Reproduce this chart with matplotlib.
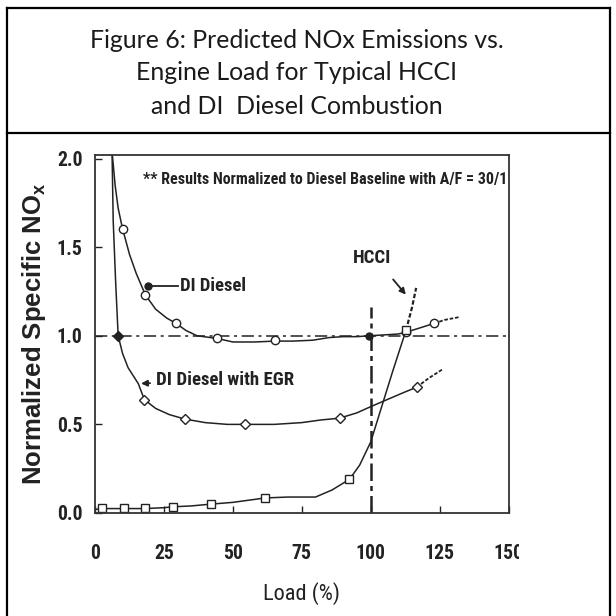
import matplotlib
matplotlib.use('Agg')
import matplotlib.pyplot as plt
from matplotlib import font_manager
from matplotlib.lines import Line2D
from matplotlib.transforms import Bbox, TransformedBbox

# Curvas (carga %, NOx normalizado)
diesel_x = [6.3, 7.3, 8.4, 9.9, 12.5, 15, 18.3, 22, 26, 29.4, 33, 37, 44.3, 50, 58, 65.4, 72, 79, 85, 90, 95, 99.5, 105, 110, 112.8, 118, 123]
diesel_y = [2.02, 1.85, 1.72, 1.61, 1.46, 1.35, 1.23, 1.15, 1.10, 1.07, 1.03, 1.00, 0.985, 0.965, 0.965, 0.97, 0.97, 0.975, 0.99, 0.995, 0.995, 1.0, 1.005, 1.01, 1.02, 1.045, 1.07]
diesel_tail_x = [123, 127, 132]
diesel_tail_y = [1.07, 1.09, 1.105]
diesel_mx = [10, 18.3, 29.4, 44.3, 65.4, 112.8, 123]
diesel_my = [1.60, 1.23, 1.07, 0.99, 0.975, 1.02, 1.07]

egr_x = [6.2, 6.6, 7.5, 8.4, 10, 12, 15.7, 17.9, 22, 27, 32.6, 40, 48, 54.5, 65, 75, 82, 88.7, 95, 100, 106, 112, 116.7]
egr_y = [2.02, 1.65, 1.30, 1.0, 0.90, 0.82, 0.73, 0.64, 0.59, 0.555, 0.53, 0.51, 0.50, 0.50, 0.50, 0.51, 0.525, 0.535, 0.565, 0.60, 0.64, 0.68, 0.71]
egr_tail_x = [116.7, 121, 126]
egr_tail_y = [0.71, 0.76, 0.81]
egr_mx = [17.9, 32.6, 54.5, 88.7, 116.7]
egr_my = [0.64, 0.53, 0.50, 0.535, 0.71]

hcci_x = [0, 2.7, 10.6, 18.2, 25, 28.3, 35, 42, 50, 61.8, 70, 80, 86, 92.3, 96, 100, 104, 108, 112.8]
hcci_y = [0.02, 0.025, 0.025, 0.025, 0.03, 0.035, 0.04, 0.05, 0.06, 0.085, 0.09, 0.09, 0.13, 0.19, 0.27, 0.40, 0.60, 0.80, 1.03]
hcci_tail_x = [112.8, 115, 116.5]
hcci_tail_y = [1.03, 1.16, 1.27]
hcci_mx = [2.7, 10.6, 18.2, 28.3, 42, 61.8, 92.3, 112.8]
hcci_my = [0.03, 0.03, 0.03, 0.035, 0.05, 0.085, 0.19, 1.03]

x_ticks = [0, 25, 50, 75, 100, 125, 150]
y_ticks = [0.0, 0.5, 1.0, 1.5, 2.0]
y_tick_labels = ['0.0', '0.5', '1.0', '1.5', '2.0']

title_lines = ['Figure 6: Predicted NOx Emissions vs.',
               'Engine Load for Typical HCCI',
               'and DI  Diesel Combustion']

ink = '#222222'

# O scan original e estreito: usa uma fonte condensada se houver
installed = {f.name for f in font_manager.fontManager.ttflist}
body = 'Liberation Sans'
for name in ['Liberation Sans Narrow', 'Roboto Condensed', 'DejaVu Sans Condensed', 'Open Sans Condensed']:
    if name in installed:
        body = name
        break

fig = plt.figure(figsize=(6.16, 6.16), dpi=100)
renderer = fig.canvas.get_renderer()

W = 616.0
def fx(px):
    return px / W
def fy(py):
    return 1 - py / W

def fit_size(text, width_px, family, weight='bold'):
    # tamanho de fonte que da a largura medida no scan
    t = fig.text(0, 0, text, fontsize=10, family=family, fontweight=weight)
    w = t.get_window_extent(renderer).width
    t.remove()
    return 10 * width_px / w

# Moldura externa e separador do titulo
for xs, ys in [([7, 7], [8, 616]), ([7, 610], [8, 8]), ([7, 610], [133, 133]), ([610, 610], [8, 616])]:
    fig.add_artist(Line2D([fx(v) for v in xs], [fy(v) for v in ys], color='black', lw=1.6,
                          transform=fig.transFigure))

title_size = fit_size(title_lines[0], 413, 'Lato', 'normal')
for i, line in enumerate(title_lines):
    fig.text(fx(297), fy(40 + 33 * i), line, ha='center', va='center', fontsize=title_size,
             family='Lato', color='#1a1a1a')

ax = fig.add_axes([fx(95), fy(513), fx(508.5) - fx(95), fy(155) - fy(513)])
ax.set_xlim(0, 150)
ax.set_ylim(0, 2.02)

# Linhas de referencia
ax.axhline(1.0, color=ink, lw=1.1, ls=(0, (8, 3, 2, 3)))
ax.plot([100, 100], [0, 1.16], color=ink, lw=1.8, ls=(0, (7, 2, 2, 2)))

# DI Diesel
ax.plot(diesel_x, diesel_y, color=ink, lw=1.1)
ax.plot(diesel_tail_x, diesel_tail_y, color=ink, lw=1.3, ls=(0, (2, 1)))
ax.plot(diesel_mx, diesel_my, 'o', ms=6, mfc='white', mec=ink, mew=1.0)
ax.plot([99.5], [1.0], 'o', ms=5, color=ink)

# DI Diesel com EGR
ax.plot(egr_x, egr_y, color=ink, lw=1.1)
ax.plot(egr_tail_x, egr_tail_y, color=ink, lw=1.3, ls=(0, (2, 1)))
ax.plot(egr_mx, egr_my, 'D', ms=5.5, mfc='white', mec=ink, mew=1.0)
ax.plot([8.4], [1.0], 'D', ms=5, color=ink)

# HCCI
ax.plot(hcci_x, hcci_y, color=ink, lw=1.1)
ax.plot(hcci_tail_x, hcci_tail_y, color=ink, lw=1.6, ls=(0, (2, 1)))
ax.plot(hcci_mx, hcci_my, 's', ms=6, mfc='white', mec=ink, mew=1.0)

# Anotacoes
note = '** Results Normalized to Diesel Baseline with A/F = 30/1'
ax.text(17.4, 1.88, note, fontsize=fit_size(note, 363, body),
        fontweight='bold', family=body, color=ink, va='center', ha='left')
ax.plot([19.2, 30], [1.28, 1.28], color=ink, lw=1.3)
ax.plot([19.2], [1.28], 'o', ms=5, color=ink)
ax.text(30.7, 1.28, 'DI Diesel', fontsize=fit_size('DI Diesel', 66, body), fontweight='bold',
        family=body, color=ink, va='center', ha='left')
ax.annotate('DI Diesel with EGR', xy=(15.7, 0.73), xytext=(22, 0.75),
            fontsize=fit_size('DI Diesel with EGR', 137, body),
            fontweight='bold', family=body, color=ink, va='center', ha='left',
            arrowprops=dict(arrowstyle='-|>', color=ink, lw=1.3, mutation_scale=9))
ax.text(100.4, 1.44, 'HCCI', fontsize=fit_size('HCCI', 38, body), fontweight='bold',
        family=body, color=ink, va='center', ha='center')
ax.annotate('', xy=(113.4, 1.22), xytext=(107.5, 1.33),
            arrowprops=dict(arrowstyle='-|>', color=ink, lw=1.3, mutation_scale=9))

ax.set_xticks(x_ticks)
ax.set_xticklabels([str(v) for v in x_ticks])
ax.set_yticks(y_ticks)
ax.set_yticklabels(y_tick_labels)
ax.tick_params(direction='in', length=5, width=1, colors=ink,
               labelsize=fit_size('1.0', 26, body))
ax.tick_params(axis='x', pad=22)
ax.tick_params(axis='y', pad=9)
for lab in ax.get_xticklabels() + ax.get_yticklabels():
    lab.set_family(body)
    lab.set_fontweight('bold')
# o "150" aparece cortado na margem do scan
last = ax.get_xticklabels()[-1]
last.set_clip_box(TransformedBbox(Bbox.from_extents(0, 0, fx(519), 1), fig.transFigure))
last.set_clip_on(True)
for s in ax.spines.values():
    s.set_color('#333333')
    s.set_linewidth(1.3)

ax.set_ylabel('Normalized Specific NO$_\\mathregular{x}$', fontsize=18.5, fontweight='bold',
              family='Liberation Sans', color=ink, va='center')
ax.yaxis.set_label_coords((34 - 95) / 413.5, 0.5)
ax.set_xlabel('Load (%)', fontsize=fit_size('Load (%)', 77, body, 'normal'), family=body,
              color=ink, va='center')
ax.xaxis.set_label_coords(0.5, (513 - 594) / 358)

fig.savefig('out.png', dpi=100)
